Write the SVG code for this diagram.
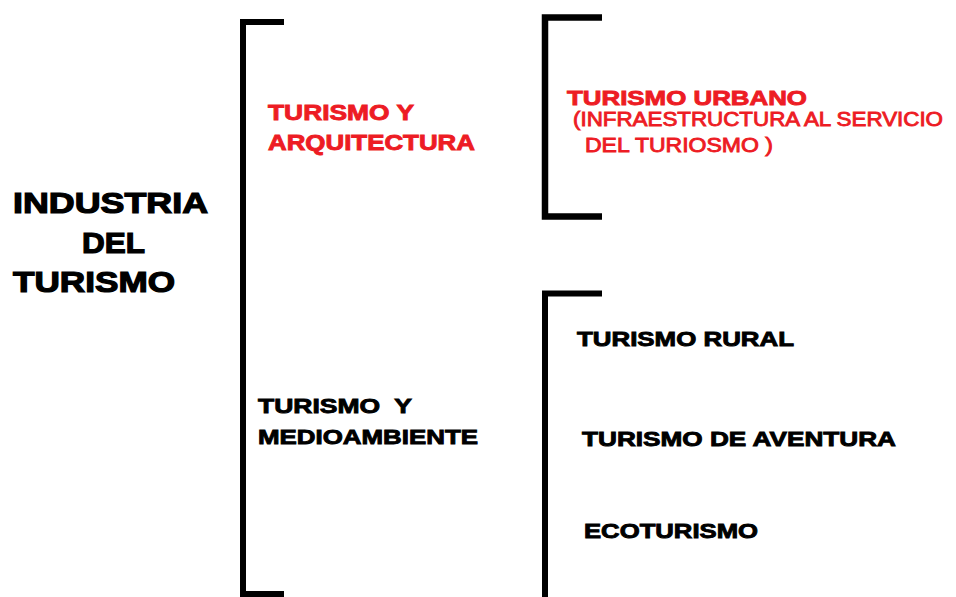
<svg xmlns="http://www.w3.org/2000/svg" width="956" height="597" viewBox="0 0 956 597">
<style>
.bk{fill:none;stroke:#000;stroke-width:6;stroke-linejoin:miter;stroke-linecap:butt}
.t{font-family:"Liberation Sans",Arial,sans-serif;font-weight:bold;white-space:pre}
.black{fill:#000;stroke:#000;stroke-width:0.9}
.red{fill:#ed1c24;stroke:#ed1c24;stroke-width:0.9}
.redn{font-family:"Liberation Sans",Arial,sans-serif;font-weight:normal;fill:#ed1c24;stroke:#ed1c24;stroke-width:0.9;white-space:pre}
.big{font-size:29px;stroke-width:1.2}
.mid{font-size:21px}
</style>
<rect width="956" height="597" fill="#fff"/>
<g id="connectors">
<path class="bk" d="M284,22 H243 V594 H284"/>
<path class="bk" d="M602,17.5 H545 V216.5 H602" style="stroke-width:6.5"/>
<path class="bk" d="M602,293.5 H545 V600"/>
</g>
<g id="industria">
<text class="t black big" x="13" y="213" textLength="195" lengthAdjust="spacingAndGlyphs">INDUSTRIA</text>
<text class="t black big" x="82" y="252.5" textLength="63" lengthAdjust="spacingAndGlyphs">DEL</text>
<text class="t black big" x="13" y="292" textLength="162" lengthAdjust="spacingAndGlyphs">TURISMO</text>
</g>
<g id="arquitectura">
<text class="t red" style="font-size:22px" x="268" y="120" textLength="146" lengthAdjust="spacingAndGlyphs">TURISMO Y</text>
<text class="t red" style="font-size:22px" x="268" y="150" textLength="207" lengthAdjust="spacingAndGlyphs">ARQUITECTURA</text>
</g>
<g id="urbano">
<text class="t red mid" x="567" y="105" textLength="240" lengthAdjust="spacingAndGlyphs">TURISMO URBANO</text>
<text class="redn" style="font-size:20.5px" x="573" y="126" textLength="370" lengthAdjust="spacingAndGlyphs">(INFRAESTRUCTURA AL SERVICIO</text>
<text class="redn" style="font-size:20.5px" x="585" y="152" textLength="188" lengthAdjust="spacingAndGlyphs">DEL TURIOSMO )</text>
</g>
<g id="medioambiente">
<text class="t black mid" x="258" y="413" textLength="154" lengthAdjust="spacingAndGlyphs">TURISMO  Y</text>
<text class="t black mid" x="258" y="443.5" textLength="220" lengthAdjust="spacingAndGlyphs">MEDIOAMBIENTE</text>
</g>
<g id="rural">
<text class="t black mid" x="577" y="345.5" textLength="217" lengthAdjust="spacingAndGlyphs">TURISMO RURAL</text>
</g>
<g id="aventura">
<text class="t black mid" x="582" y="446" textLength="314" lengthAdjust="spacingAndGlyphs">TURISMO DE AVENTURA</text>
</g>
<g id="ecoturismo">
<text class="t black mid" x="584" y="537.5" textLength="174" lengthAdjust="spacingAndGlyphs">ECOTURISMO</text>
</g>
</svg>
